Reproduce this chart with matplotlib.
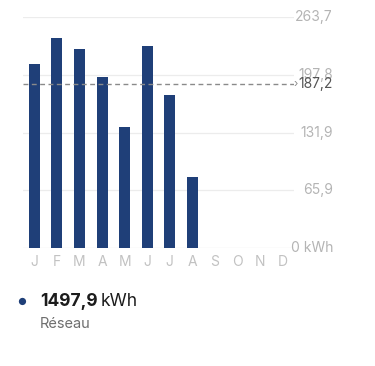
import matplotlib
matplotlib.use("Agg")
import matplotlib.pyplot as plt

plt.rcParams['font.family'] = ['Inter', 'DejaVu Sans']

months = ["J", "F", "M", "A", "M", "J", "J", "A", "S", "O", "N", "D"]
values = [210.0, 240.0, 227.0, 196.0, 138.0, 231.0, 175.0, 80.9]
y_ticks = [0, 65.9, 131.9, 197.8, 263.7]
y_labels = ["0 kWh", "65,9", "131,9", "197,8", "263,7"]
average = 187.2
average_label = "187,2"
total_label = "1497,9"
unit_label = "kWh"
series_name = "Réseau"

bar_color = "#1f3f78"
W, H = 375, 366
fig = plt.figure(figsize=(W / 100, H / 100), dpi=100)

# plot area in pixel coordinates
left, right, top, bottom = 23, 294, 17.4, 247.7
ax = fig.add_axes([left / W, 1 - bottom / H, (right - left) / W, (bottom - top) / H])

x = list(range(len(values)))
ax.bar(x, values, width=0.49, color=bar_color, zorder=3)

ax.set_xlim(-0.5, 11.5)
ax.set_ylim(0, y_ticks[-1])

for t in y_ticks:
    ax.axhline(t, color="#ececec" if t else "#e2e2e2", lw=0.9, zorder=1)

ax.axhline(average, color="#8a8a8a", lw=1.0, ls=(0, (3.5, 2.5)), zorder=4)

for s in ax.spines.values():
    s.set_visible(False)
ax.set_xticks([])
ax.set_yticks([])

# month labels
for i, m in enumerate(months):
    ax.text(i, -16, m, ha="center", va="center", fontsize=10,
            color="#c2c2c2", transform=ax.transData, clip_on=False)

# value axis labels on the right
label_x = 333 / W
for t, lab in zip(y_ticks, y_labels):
    yp = 1 - (bottom - (bottom - top) * t / y_ticks[-1]) / H
    ax.text(label_x, yp, lab, ha="right", va="center", fontsize=10,
            color="#b4b4b4", transform=fig.transFigure)

# average marker and label
yavg = 1 - (bottom - (bottom - top) * average / y_ticks[-1]) / H
fig.text(296 / W, yavg, "›", ha="center", va="center", fontsize=8, color="#8a8a8a")
fig.text(label_x, yavg, average_label, ha="right", va="center", fontsize=10,
         color="#555555")

# legend block
fig.text(22 / W, 1 - 302 / H, "●", ha="center", va="center", fontsize=7, color=bar_color)
t1 = fig.text(40 / W, 1 - 302 / H, total_label, ha="left", va="center",
              fontsize=12.5, fontweight="bold", color="#1c1c1c")
fig.canvas.draw()
bb = t1.get_window_extent()
fig.text((bb.x1 + 3) / W, 1 - 302 / H, unit_label, ha="left", va="center",
         fontsize=12.5, color="#1c1c1c")
fig.text(40 / W, 1 - 324 / H, series_name, ha="left", va="center",
         fontsize=10.5, color="#6e6e6e")

fig.savefig("out.png", dpi=100, facecolor="white")
